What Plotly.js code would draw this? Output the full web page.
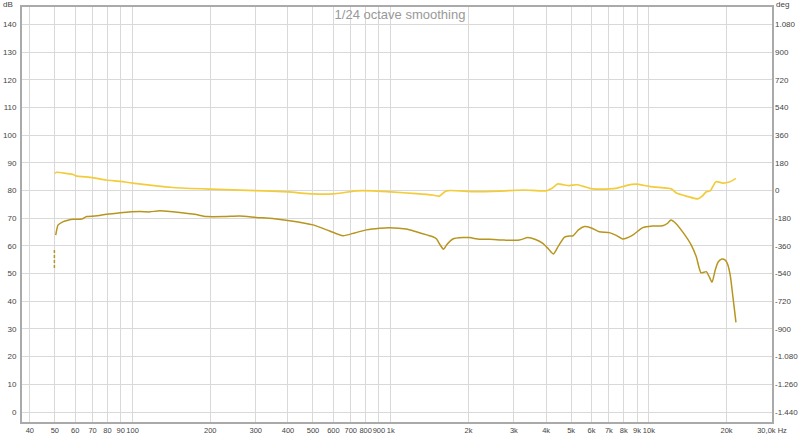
<!DOCTYPE html>
<html>
<head>
<meta charset="utf-8">
<script src="https://cdn.plot.ly/plotly-3.0.1.min.js"></script>
<style>html,body{margin:0;padding:0;background:#fff;}#chart{width:800px;height:435px;}</style>
</head>
<body>
<div id="chart"></div>
<script>
// Upper (light yellow) trace, dB
const upperFreq = [50, 50.8, 55.2, 58.9, 60.3, 70, 79, 90, 100, 143.6, 200, 300, 400, 500, 600, 663, 736, 850, 1000, 1256, 1453, 1546, 1642, 2080, 2638, 3248, 4002, 4197, 4437, 4710, 4925, 5263, 5580, 5971, 7030, 7550, 8159, 8918, 10040, 11660, 12230, 12780, 14090, 15450, 16110, 16700, 17300, 18200, 19320, 20510, 21740];
const upperDb   = [86.2, 86.6, 86.2, 85.8, 85.3, 84.7, 83.8, 83.3, 82.7, 81.1, 80.5, 80.0, 79.5, 78.8, 78.8, 79.3, 79.9, 79.9, 79.5, 78.9, 78.4, 78.0, 79.9, 79.6, 79.8, 80.2, 79.9, 80.7, 82.4, 82.0, 81.8, 82.1, 81.5, 80.7, 80.6, 80.9, 81.8, 82.3, 81.5, 80.9, 80.6, 79.1, 77.9, 77.0, 78.0, 79.6, 79.9, 83.2, 82.7, 83.1, 84.4];

// Lower (dark gold) trace, dB
const lowerFreq = [50.4, 51.5, 53.9, 56.2, 58.9, 63.5, 66.4, 71.5, 79.3, 92, 106.7, 116.7, 127.5, 152.4, 174.2, 193.4, 227.6, 260, 302, 349, 406, 500, 580, 653, 725, 805, 906, 990, 1149, 1256, 1390, 1456, 1506, 1546, 1602, 1645, 1740, 1903, 2019, 2208, 2414, 2761, 3153, 3397, 3639, 3884, 4085, 4273, 4467, 4713, 4925, 5074, 5337, 5630, 5988, 6430, 7030, 7480, 7920, 8657, 9468, 10315, 11310, 11790, 12180, 12670, 13610, 14600, 15280, 15930, 16690, 17150, 17570, 18080, 18560, 19190, 19770, 20180, 20660, 21090, 21420, 21750];
const lowerDb   = [63.9, 67.6, 68.8, 69.3, 69.6, 69.7, 70.6, 70.8, 71.4, 72.1, 72.4, 72.3, 72.7, 72.1, 71.4, 70.6, 70.6, 70.8, 70.3, 69.9, 69.1, 67.6, 65.4, 63.7, 64.7, 65.8, 66.4, 66.6, 66.1, 65.1, 63.9, 63.3, 62.5, 60.7, 58.8, 60.3, 62.5, 63.0, 63.0, 62.4, 62.4, 62.1, 62.1, 63.0, 62.3, 60.9, 58.9, 57.1, 60.0, 63.2, 63.6, 63.6, 65.8, 67.0, 66.5, 65.1, 64.8, 63.8, 62.5, 63.9, 66.6, 67.2, 67.3, 68.1, 69.4, 68.3, 64.7, 60.3, 56.0, 50.3, 50.7, 48.8, 46.9, 51.3, 54.2, 55.3, 54.9, 53.5, 49.5, 42.9, 37.6, 32.4];

// Dashed start segment of lower trace
const startFreq = [49.8, 49.8];
const startDb   = [52.0, 58.5];

// Axis ticks
const xTickVals = [40, 50, 60, 70, 80, 90, 100, 200, 300, 400, 500, 600, 700, 800, 900, 1000, 2000, 3000, 4000, 5000, 6000, 7000, 8000, 9000, 10000, 20000, 30000];
const xTickText = ['40', '50', '60', '70', '80', '90', '100', '200', '300', '400', '500', '600', '700', '800', '900', '1k', '2k', '3k', '4k', '5k', '6k', '7k', '8k', '9k', '10k', '20k', '30,0k Hz'];
const degTickVals = [1080, 900, 720, 540, 360, 180, 0, -180, -360, -540, -720, -900, -1080, -1260, -1440];
const degTickText = ['1.080', '900', '720', '540', '360', '180', '0', '-180', '-360', '-540', '-720', '-900', '-1.080', '-1.260', '-1.440'];

const upperColor = '#f3cc3c';
const lowerColor = '#b8951e';

const traces = [
  {x: upperFreq, y: upperDb, type: 'scatter', mode: 'lines', line: {color: upperColor, width: 1.7, shape: 'spline', smoothing: 0.6}, hoverinfo: 'skip'},
  {x: lowerFreq, y: lowerDb, type: 'scatter', mode: 'lines', line: {color: lowerColor, width: 1.5, shape: 'spline', smoothing: 0.6}, hoverinfo: 'skip'},
  {x: startFreq, y: startDb, type: 'scatter', mode: 'lines', line: {color: lowerColor, width: 1.5, dash: '3px,2px'}, hoverinfo: 'skip'},
  {x: [], y: [], type: 'scatter', mode: 'lines', yaxis: 'y2', hoverinfo: 'skip'}
];

const tickFont = {family: 'Liberation Sans, Arial, sans-serif', size: 8, color: '#444'};
const xTickFont = {family: 'Liberation Sans, Arial, sans-serif', size: 7.5, color: '#444'};
const frame = {showline: true, linecolor: '#aaaaaa', linewidth: 2};

const layout = {
  width: 800, height: 435,
  margin: {l: 22, r: 28, t: 7, b: 13},
  paper_bgcolor: '#fff', plot_bgcolor: '#fff',
  showlegend: false,
  separators: ',.',
  title: {text: '1/24 octave smoothing', font: {family: 'Liberation Sans, Arial, sans-serif', size: 13, color: '#999'}, x: 0.5, xanchor: 'center', y: 0.966, yanchor: 'middle', yref: 'container'},
  xaxis: Object.assign({type: 'log', range: [Math.log10(37.3), Math.log10(30000)], tickvals: xTickVals, ticktext: xTickText, tickangle: 0,
    showgrid: true, gridcolor: '#d9d9d9', gridwidth: 1, zeroline: false, ticks: '', tickfont: xTickFont, ticklabelstandoff: 0, mirror: true}, frame),
  yaxis: Object.assign({range: [-3.6, 146.3], dtick: 10, tick0: 0, showgrid: true, gridcolor: '#d9d9d9', gridwidth: 1, zeroline: false,
    ticks: '', tickfont: tickFont, ticklabelstandoff: 2, mirror: true}, frame),
  yaxis2: {overlaying: 'y', side: 'right', range: [-1504.8, 1193.4], tickvals: degTickVals, ticktext: degTickText, showgrid: false, zeroline: false,
    ticks: '', tickfont: tickFont, ticklabelstandoff: 2, showline: false},
  annotations: [
    {text: 'dB', xref: 'paper', yref: 'paper', x: -0.01, y: 1.0, xanchor: 'right', yanchor: 'bottom', showarrow: false, font: tickFont, yshift: -4},
    {text: 'deg', xref: 'paper', yref: 'paper', x: 1.0, y: 1.0, xanchor: 'left', yanchor: 'bottom', showarrow: false, font: tickFont, yshift: -4, xshift: 2}
  ]
};

Plotly.newPlot('chart', traces, layout, {staticPlot: true, displayModeBar: false});
</script>
</body>
</html>
